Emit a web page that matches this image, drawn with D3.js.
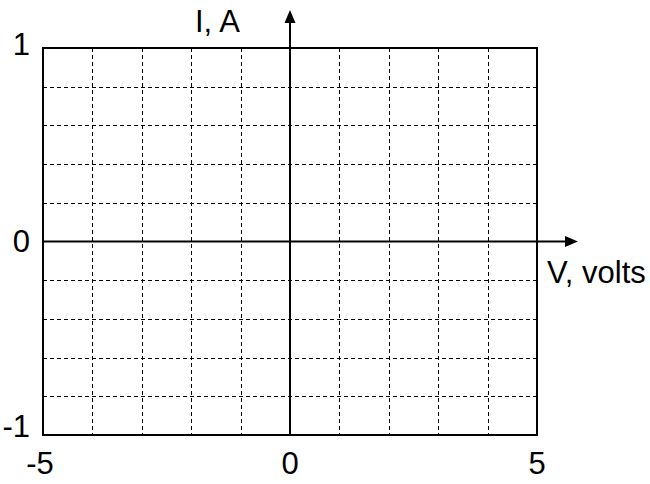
<!DOCTYPE html>
<html>
<head>
<meta charset="utf-8">
<script src="https://cdn.jsdelivr.net/npm/d3@7"></script>
<style>
  html, body { margin: 0; padding: 0; background: #fff; }
  svg { display: block; }
  text { font-family: "Liberation Sans", Arial, sans-serif; fill: #000; }
</style>
</head>
<body>
<svg id="chart" width="650" height="484"></svg>
<script>
// ---- data ----
const xDomain = [-5, 5];
const yDomain = [-1, 1];
const xGridValues = [-4, -3, -2, -1, 1, 2, 3, 4];
const yGridValues = [-0.8, -0.6, -0.4, -0.2, 0.2, 0.4, 0.6, 0.8];
const xTickLabels = [-5, 0, 5];
const yTickLabels = [1, 0, -1];
const xAxisTitle = "V, volts";
const yAxisTitle = "I, A";

(function () {
// ---- layout ----
const svg = d3.select("#chart");
const pLeft = 43, pRight = 537, pTop = 48, pBottom = 435;
const x = d3.scaleLinear().domain(xDomain).range([pLeft, pRight]);
const y = d3.scaleLinear().domain(yDomain).range([pBottom, pTop]);
const snap = v => Math.round(v) + 0.5;

// grid
svg.append("g").selectAll("line").data(xGridValues).join("line")
  .attr("x1", d => snap(x(d))).attr("x2", d => snap(x(d)))
  .attr("y1", pTop).attr("y2", pBottom)
  .attr("stroke", "#000").attr("stroke-width", 1).attr("stroke-dasharray", "4,3");
svg.append("g").selectAll("line").data(yGridValues).join("line")
  .attr("y1", d => snap(y(d))).attr("y2", d => snap(y(d)))
  .attr("x1", pLeft).attr("x2", pRight)
  .attr("stroke", "#000").attr("stroke-width", 1).attr("stroke-dasharray", "4,3");

// frame
svg.append("rect")
  .attr("x", pLeft).attr("y", pTop)
  .attr("width", pRight - pLeft).attr("height", pBottom - pTop)
  .attr("fill", "none").attr("stroke", "#000").attr("stroke-width", 2);

// axes with arrows
const x0 = x(0), y0 = y(0);
const xTip = 578, yTip = 10, head = 13, half = 5.5;
svg.append("line").attr("x1", x0).attr("x2", x0).attr("y1", pBottom).attr("y2", yTip + head - 1)
  .attr("stroke", "#000").attr("stroke-width", 2);
svg.append("path")
  .attr("d", `M${x0},${yTip} L${x0 - half},${yTip + head} L${x0 + half},${yTip + head} Z`)
  .attr("fill", "#000");
svg.append("line").attr("x1", pLeft).attr("x2", xTip - head + 1).attr("y1", y0).attr("y2", y0)
  .attr("stroke", "#000").attr("stroke-width", 2);
svg.append("path")
  .attr("d", `M${xTip},${y0} L${xTip - head},${y0 - half} L${xTip - head},${y0 + half} Z`)
  .attr("fill", "#000");

// tick labels
const fs = 31;
svg.append("g").selectAll("text").data(xTickLabels).join("text")
  .attr("x", d => x(d) - (d < 0 ? 3 : 0))
  .attr("y", pBottom + 39)
  .attr("text-anchor", "middle")
  .attr("font-size", fs)
  .text(d => d);
svg.append("g").selectAll("text").data(yTickLabels).join("text")
  .attr("x", 30)
  .attr("y", d => y(d) + (d === 0 ? 10.5 : (d > 0 ? 7 : 2)))
  .attr("text-anchor", "end")
  .attr("font-size", fs)
  .text(d => d);

// axis titles
svg.append("text").attr("x", 195).attr("y", 32).attr("font-size", fs).text(yAxisTitle);
svg.append("text").attr("x", 547).attr("y", 283).attr("font-size", fs).text(xAxisTitle);
})();
</script>
</body>
</html>
